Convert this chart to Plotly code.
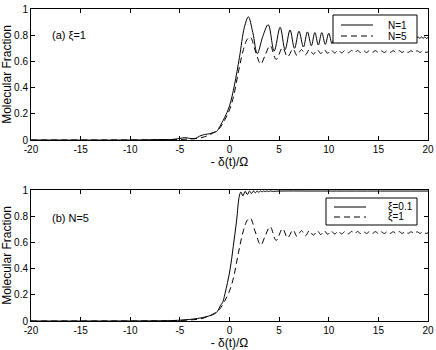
import plotly.graph_objects as go
from plotly.subplots import make_subplots

# values (x = -delta(t)/Omega)
x_n1 = [-20, -10, -8, -7, -6, -5, -4.5, -4, -3.5, -3, -2.5, -2, -1.6, -1.3, -1.0, -0.5, 0, 0.5, 1.0, 1.5,
        1.9, 2.35, 2.8, 3.35, 3.9, 4.5, 5.1, 5.6, 6.1, 6.55, 7.0, 7.45, 7.85, 8.25, 8.6, 8.95, 9.3, 9.65,
        10.0, 10.33, 10.66, 10.99, 11.32, 11.65, 11.98, 12.28, 12.57, 12.86, 13.15, 13.44, 13.73, 14.0,
        14.25, 14.5, 14.75, 15.0, 15.25, 15.5, 15.75, 16.0, 16.21, 16.42, 16.63, 16.84, 17.05, 17.26,
        17.47, 17.68, 17.89, 18.1, 18.28, 18.46, 18.64, 18.82, 19.0, 19.17, 19.34, 19.51, 19.68, 19.85, 20]
y_n1 = [0, 0, 0.002, 0.004, 0.003, 0.012, 0.018, 0.012, 0.01, 0.03, 0.042, 0.048, 0.058, 0.065, 0.1, 0.17,
        0.26, 0.42, 0.63, 0.86, 0.94, 0.82, 0.66, 0.79, 0.88, 0.68, 0.86, 0.69, 0.84, 0.70, 0.83, 0.71,
        0.825, 0.72, 0.82, 0.725, 0.82, 0.73, 0.815, 0.735, 0.815, 0.74, 0.81, 0.745, 0.81, 0.75, 0.805,
        0.75, 0.805, 0.755, 0.80, 0.76, 0.80, 0.76, 0.80, 0.765, 0.795, 0.765, 0.795, 0.77, 0.795, 0.77,
        0.79, 0.77, 0.79, 0.772, 0.79, 0.772, 0.79, 0.774, 0.788, 0.774, 0.788, 0.775, 0.788, 0.775,
        0.787, 0.776, 0.787, 0.776, 0.782]

# N=5, xi=1 (same curve in both panels)
x_n5 = [-20, -8, -6, -5, -4, -3, -2.5, -2, -1.5, -1.0, -0.5, 0, 0.4, 0.9, 1.4, 1.8, 2.1, 2.6, 3.15, 3.6,
        4.1, 4.7, 5.35, 5.85, 6.4, 6.8, 7.25, 7.65, 8.05, 8.45, 8.85, 9.2, 9.55, 9.9, 10.25, 10.6, 10.95,
        11.3, 11.65, 12.0, 12.3, 12.6, 12.9, 13.2, 13.5, 13.8, 14.1, 14.4, 14.7, 15.0, 15.3, 15.6, 15.9,
        16.2, 16.5, 16.8, 17.1, 17.4, 17.7, 18.0, 18.3, 18.6, 18.9, 19.2, 19.5, 19.8, 20]
y_n5 = [0, 0.001, 0.002, 0.004, 0.008, 0.015, 0.025, 0.04, 0.06, 0.09, 0.15, 0.23, 0.33, 0.52, 0.69, 0.77,
        0.785, 0.68, 0.58, 0.65, 0.72, 0.615, 0.705, 0.635, 0.695, 0.645, 0.69, 0.65, 0.69, 0.655, 0.688,
        0.66, 0.688, 0.662, 0.686, 0.664, 0.686, 0.665, 0.684, 0.666, 0.684, 0.667, 0.683, 0.668, 0.683,
        0.668, 0.682, 0.669, 0.682, 0.669, 0.681, 0.668, 0.682, 0.669, 0.681, 0.668, 0.682, 0.669, 0.681,
        0.669, 0.681, 0.668, 0.681, 0.669, 0.68, 0.668, 0.674]

# N=5, xi=0.1
x_x01 = [-20, -8, -6, -5, -4, -3, -2.5, -2, -1.5, -1.2, -0.9, -0.7, -0.45, 0.05, 0.38, 0.72, 0.98, 1.15,
         1.35, 1.58, 1.8, 2.02, 2.22, 2.42, 2.6, 2.78, 2.95, 3.12, 3.28, 3.44, 3.6, 3.76, 3.92, 4.1, 4.3,
         5, 10, 20]
y_x01 = [0, 0.001, 0.003, 0.006, 0.012, 0.022, 0.03, 0.04, 0.055, 0.075, 0.12, 0.14, 0.21, 0.39, 0.57,
         0.77, 0.95, 0.985, 0.955, 0.99, 0.965, 0.992, 0.973, 0.993, 0.978, 0.993, 0.982, 0.993, 0.985,
         0.993, 0.987, 0.993, 0.988, 0.993, 0.99, 0.992, 0.992, 0.992]

xticks = [-20, -15, -10, -5, 0, 5, 10, 15, 20]
yticks = [0, 0.2, 0.4, 0.6, 0.8, 1]

W, H = 436, 350
ML, MR, MT, MB = 31, 8, 9, 29
FONT = "Liberation Sans, Arial, sans-serif"


def px(x):
    return (x - ML) / (W - ML - MR)


def py(y):
    return 1 - (y - MT) / (H - MT - MB)


fig = make_subplots(rows=2, cols=1)
solid = dict(color="black", width=1)
dashed = dict(color="black", width=1, dash="6px,4px")

fig.add_trace(go.Scatter(x=x_n1, y=y_n1, mode="lines", line=dict(solid, shape="spline")), row=1, col=1)
fig.add_trace(go.Scatter(x=x_n5, y=y_n5, mode="lines", line=dict(dashed, shape="spline")), row=1, col=1)
fig.add_trace(go.Scatter(x=x_x01, y=y_x01, mode="lines", line=dict(solid, shape="spline")), row=2, col=1)
fig.add_trace(go.Scatter(x=x_n5, y=y_n5, mode="lines", line=dict(dashed, shape="spline")), row=2, col=1)

ax = dict(showline=True, linecolor="black", linewidth=1, mirror="ticks", ticks="inside", ticklen=4,
          tickcolor="black", showgrid=False, zeroline=False, automargin=False,
          tickfont=dict(size=10, color="black"))
fig.update_xaxes(ax, range=[-20, 20], tickvals=xticks, ticktext=[str(t) for t in xticks],
                 title=dict(text="- δ(t)/Ω", font=dict(size=12, color="black"), standoff=2))
fig.update_yaxes(ax, range=[0, 1], tickvals=yticks, ticktext=[f"{t:g}" for t in yticks],
                 title=dict(text="Molecular Fraction", font=dict(size=12, color="black"), standoff=2))
fig.update_layout(yaxis=dict(domain=[py(140), 1]), yaxis2=dict(domain=[0, py(190)]))

fig.add_annotation(x=-18.1, y=0.8, xref="x", yref="y", text="(a) ξ=1", showarrow=False,
                   xanchor="left", font=dict(size=11, color="black"))
fig.add_annotation(x=-18.1, y=0.79, xref="x2", yref="y2", text="(b) N=5", showarrow=False,
                   xanchor="left", font=dict(size=11, color="black"))

# legends drawn as boxes with sample lines
legends = [((333, 15, 417, 43), 25, 36, ["N=1", "N=5"]),
           ((326, 198, 417, 225), 207, 217, ["ξ=0.1", "ξ=1"])]
for (x0, y0, x1, y1), ya, yb, names in legends:
    fig.add_shape(type="rect", xref="paper", yref="paper", x0=px(x0), y0=py(y0), x1=px(x1), y1=py(y1),
                  line=dict(color="black", width=1), fillcolor="white", layer="above")
    for yy, nm, ln in [(ya, names[0], solid), (yb, names[1], dashed)]:
        fig.add_shape(type="line", xref="paper", yref="paper", x0=px(x0 + 8), x1=px(x0 + 40),
                      y0=py(yy), y1=py(yy), line=ln, layer="above")
        fig.add_annotation(x=px(386), y=py(yy), xref="paper", yref="paper", text=nm, showarrow=False,
                           xanchor="left", yanchor="middle", font=dict(size=10, color="black"))

fig.update_layout(width=W, height=H, margin=dict(l=ML, r=MR, t=MT, b=MB), showlegend=False,
                  plot_bgcolor="white", paper_bgcolor="white", font=dict(family=FONT, color="black"))

# page body has a default 8px margin; drop it so the figure sits at the window corner
fig.write_html("out.html", config={"displayModeBar": False},
               post_script="document.body.style.margin='0';document.body.style.padding='0';")
